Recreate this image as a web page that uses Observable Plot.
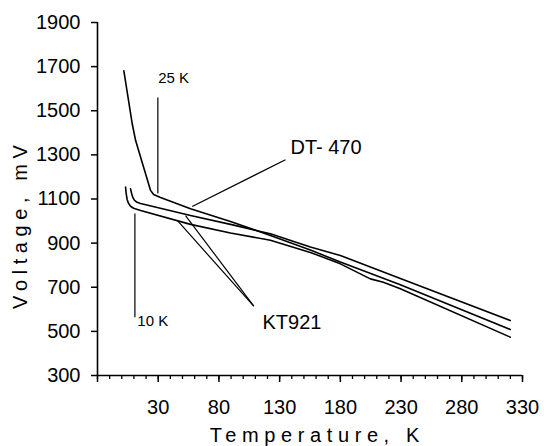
<!DOCTYPE html>
<html>
<head>
<meta charset="utf-8">
<script src="https://cdn.jsdelivr.net/npm/d3@7"></script>
<script src="https://cdn.jsdelivr.net/npm/@observablehq/plot@0.6"></script>
<style>
  html, body { margin: 0; padding: 0; background: #fff; }
</style>
</head>
<body>
<div id="chart"></div>
<script>
// Temperature (K) / voltage (mV)
const dt470T = [1.7, 8.6, 11.4, 23.7, 26.2, 31.9, 56.6, 89.5, 122.4, 155.3, 180, 229.4, 319.9];
const dt470V = [1681, 1441, 1365, 1139, 1120, 1107, 1056, 998, 935, 869, 814, 711, 509];

const kt921aT = [7.2, 8.1, 9.1, 10.5, 12.6, 15.5, 56.6, 89.5, 122.4, 155.3, 180, 229.4, 319.9];
const kt921aV = [1146, 1125, 1107, 1094, 1085, 1080, 1025, 985, 942, 882, 844, 740, 549];

const kt921bT = [3.1, 3.6, 4.4, 5.6, 7.2, 9.7, 15.5, 56.6, 89.5, 122.4, 155.3, 180, 204.7, 215.4, 229.4, 319.9];
const kt921bV = [1154, 1125, 1098, 1080, 1067, 1058, 1048, 985, 946, 913, 858, 806, 738, 723, 693, 474];

// Axis ticks
const yTicks = [300, 500, 700, 900, 1100, 1300, 1500, 1700, 1900];
const xMajorTicks = [-20, 30, 80, 130, 180, 230, 280, 330];
const xMinorTicks = d3.range(-20, 331, 10);

// Annotation pointer lines (start and end)
const pointerT1 = [29.7, 10.8, 58, 52.5, 45.7];
const pointerV1 = [1125, 1034, 1066, 1025, 1003];
const pointerT2 = [29.7, 10.8, 134.8, 108.7, 108.7];
const pointerV2 = [1560, 564, 1278, 614, 614];

// Annotation labels
const smallLabels = ["25 K", "10 K"];
const smallLabelT = [30.0, 12.8];
const smallLabelV = [1646, 546];
const bigLabels = ["DT- 470", "KT921"];
const bigLabelT = [138.9, 115.9];
const bigLabelV = [1331, 538];

const xTitle = "Temperature, K";
const yTitle = "Voltage, mV";

const mk = (T, V) => T.map((t, i) => ({t, v: V[i]}));
const series = [mk(dt470T, dt470V), mk(kt921aT, kt921aV), mk(kt921bT, kt921bV)];
const pointers = pointerT1.map((t, i) => ({t1: t, v1: pointerV1[i], t2: pointerT2[i], v2: pointerV2[i]}));

const chart = Plot.plot({
  width: 544,
  height: 446,
  marginLeft: 97,
  marginRight: 22,
  marginTop: 22,
  marginBottom: 71,
  style: {fontFamily: "'Liberation Sans', Arial, sans-serif", fontSize: "20px", color: "black", background: "white"},
  x: {domain: [-20, 330]},
  y: {domain: [300, 1900]},
  marks: [
    Plot.ruleX([-20], {y1: 300, y2: 1900, stroke: "black", strokeWidth: 1.6}),
    Plot.ruleY([300], {x1: -20, x2: 330, stroke: "black", strokeWidth: 1.6}),
    Plot.axisY(yTicks, {tickSize: 6, tickPadding: 11, strokeWidth: 1.5, fontSize: 20, label: null,
      tickFormat: d => String(d)}),
    Plot.axisX(xMinorTicks, {tickSize: 4, strokeWidth: 1.3, tickFormat: () => "", label: null}),
    Plot.axisX(xMajorTicks, {tickSize: 7, tickPadding: 17, strokeWidth: 1.5, fontSize: 20, label: null,
      tickFormat: d => d === -20 ? "" : String(d)}),
    ...series.map(s => Plot.line(s, {x: "t", y: "v", stroke: "black", strokeWidth: 1.6})),
    Plot.link(pointers, {x1: "t1", y1: "v1", x2: "t2", y2: "v2", stroke: "black", strokeWidth: 1.2}),
    Plot.text(smallLabels, {x: (d, i) => smallLabelT[i], y: (d, i) => smallLabelV[i], text: d => d,
      textAnchor: "start", lineAnchor: "middle", fontSize: 15}),
    Plot.text(bigLabels, {x: (d, i) => bigLabelT[i], y: (d, i) => bigLabelV[i], text: d => d,
      textAnchor: "start", lineAnchor: "middle", fontSize: 20}),
    Plot.text([xTitle], {frameAnchor: "bottom", text: d => d, textAnchor: "middle", lineAnchor: "middle",
      dx: 7.3, dy: 60.5, fontSize: 20}),
    Plot.text([yTitle], {frameAnchor: "left", text: d => d, textAnchor: "middle", lineAnchor: "middle",
      rotate: -90, dx: -76.7, dy: 25.2, fontSize: 20})
  ]
});
d3.select(chart).selectAll("text")
  .filter(function() { return this.textContent === xTitle || this.textContent === yTitle; })
  .style("letter-spacing", "5.6px");
document.getElementById("chart").appendChild(chart);
</script>
</body>
</html>
